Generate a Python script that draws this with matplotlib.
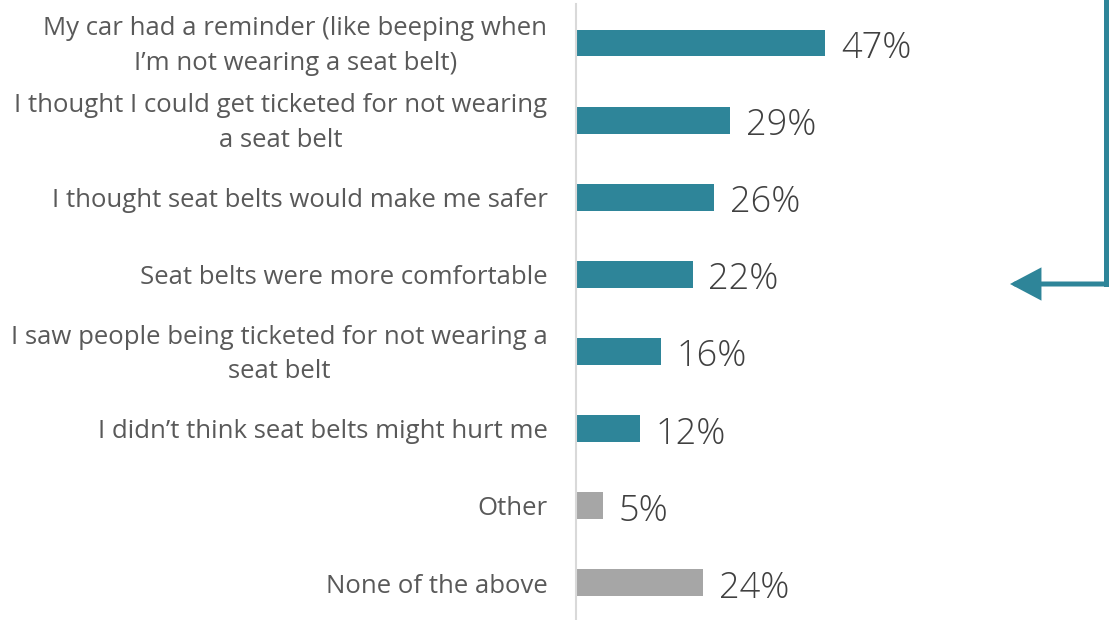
import matplotlib
matplotlib.use('Agg')
import matplotlib.pyplot as plt
from matplotlib.patches import FancyArrowPatch
from matplotlib.lines import Line2D

labels = [
    "My car had a reminder (like beeping when\nI\u2019m not wearing a seat belt)",
    "I thought I could get ticketed for not wearing\na seat belt",
    "I thought seat belts would make me safer",
    "Seat belts were more comfortable",
    "I saw people being ticketed for not wearing a\nseat belt",
    "I didn\u2019t think seat belts might hurt me",
    "Other",
    "None of the above",
]
values = [47, 29, 26, 22, 16, 12, 5, 24]
colors = ["#2e8599"] * 6 + ["#a6a6a6"] * 2

plt.rcParams['font.family'] = ['Open Sans', 'DejaVu Sans']

W, H = 1112, 620
fig = plt.figure(figsize=(W / 100, H / 100), dpi=100)
ax = fig.add_axes([576 / W, 0, (W - 576) / W, 1])

ypos = list(range(len(values)))
ax.barh(ypos, values, height=0.35, color=colors)
ax.set_xlim(0, (W - 576) / 5.3)
ax.set_ylim((620 - 43) / 77.14, -43 / 77.14)

for y, v, lab in zip(ypos, values, labels):
    ax.text(v + 3, y + 0.07, f"{v}%", va='center', ha='left',
            fontsize=26, color='#404040', fontweight='light')
    ax.text(-5.4, y + 0.04, lab, va='center', ha='right', multialignment='center',
            fontsize=18.5, color='#595959', linespacing=1.5)

for s in ['top', 'right', 'bottom']:
    ax.spines[s].set_visible(False)
ax.spines['left'].set_color('#d9d9d9')
ax.spines['left'].set_linewidth(1.5)
ax.spines['left'].set_bounds(ax.get_ylim()[0], -0.5)
ax.set_xticks([])
ax.set_yticks([])

# callout arrow on the right
teal = "#2e8599"
fig.add_artist(Line2D([1106 / W, 1106 / W], [1, 1 - 284 / H],
                      transform=fig.transFigure, color=teal, lw=3.6,
                      solid_capstyle='projecting'))
fig.add_artist(FancyArrowPatch((1106 / W, 1 - 284 / H), (1010 / W, 1 - 284 / H),
                               transform=fig.transFigure, color=teal, lw=3.6,
                               arrowstyle='-|>,head_length=1.7,head_width=0.9',
                               shrinkA=0, shrinkB=0, mutation_scale=10,
                               joinstyle='miter'))

fig.savefig('out.png', dpi=100)
